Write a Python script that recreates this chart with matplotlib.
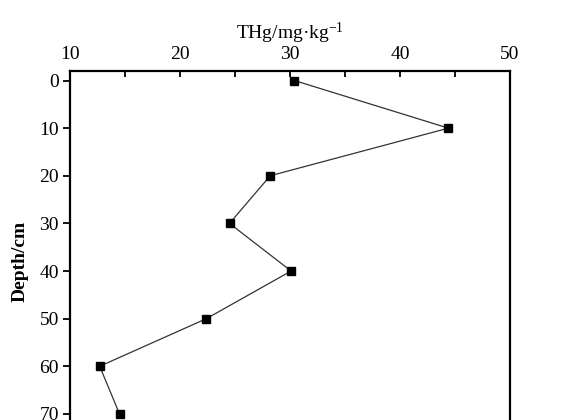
import matplotlib.pyplot as plt

plt.rcParams['font.family'] = ['Liberation Serif', 'DejaVu Serif']
plt.rcParams['mathtext.fontset'] = 'custom'
plt.rcParams['mathtext.rm'] = 'Liberation Serif'
plt.rcParams['mathtext.default'] = 'regular'

# depth profile data
depth = [0, 10, 20, 30, 40, 50, 60, 70]
thg = [30.4, 44.4, 28.2, 24.5, 30.1, 22.4, 12.7, 14.5]
x_ticks = [10, 20, 30, 40, 50]
y_ticks = [0, 10, 20, 30, 40, 50, 60, 70]

fig = plt.figure(figsize=(5.61, 4.2), dpi=100)
ax = fig.add_axes([70 / 561, -32 / 420, 440 / 561, 381 / 420])

ax.plot(thg, depth, color='#333333', linewidth=0.9, marker='s',
        markersize=5.5, markerfacecolor='black', markeredgecolor='black')

ax.set_xlim(10, 50)
ax.set_ylim(78, -2)
ax.xaxis.tick_top()
ax.xaxis.set_label_position('top')
ax.set_xticks(x_ticks)
ax.set_xticks([15, 25, 35, 45], minor=True)
ax.set_yticks(y_ticks)

ax.tick_params(axis='x', which='both', direction='in', length=4, width=1.3,
               labelsize=14, pad=6)
ax.tick_params(axis='y', direction='out', length=5, width=1.3, labelsize=14,
               pad=3)

ax.set_xlabel('THg/mg·kg$^{-1}$', fontsize=14, labelpad=5)
ax.set_ylabel('Depth/cm', fontsize=14, fontweight='bold', labelpad=8)

for s in ax.spines.values():
    s.set_linewidth(1.6)

fig.savefig('out.png', dpi=100)
